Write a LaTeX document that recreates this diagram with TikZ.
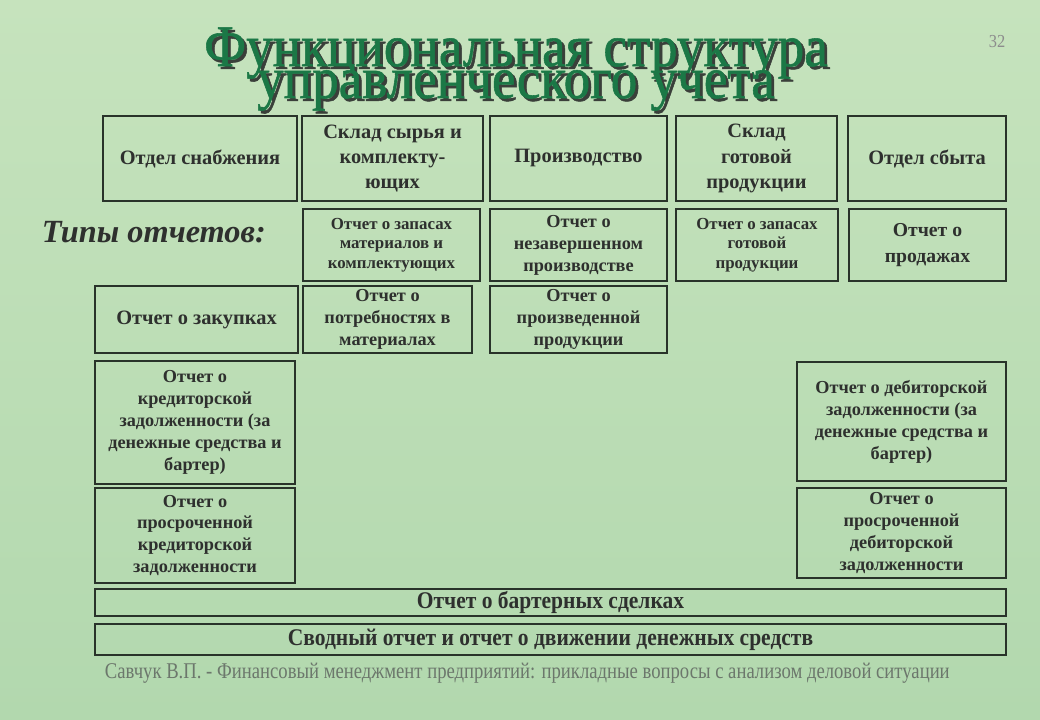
\documentclass[tikz,border=0pt]{standalone}
\usepackage{fontspec}
\setmainfont{Liberation Serif}
\newfontfamily\narrowserif[FakeStretch=0.9]{Liberation Serif}
\newfontfamily\footserif[FakeStretch=0.83]{Liberation Serif}
\newfontfamily\titleserif[FakeStretch=0.9, FakeBold=0.9]{Liberation Serif}
\usepackage{tikz}
\usetikzlibrary{positioning}

\definecolor{bgtop}{HTML}{C6E3BD}
\definecolor{bgbottom}{HTML}{B2D8AE}
\definecolor{boxline}{HTML}{29332A}
\definecolor{boxtext}{HTML}{2E302E}
\definecolor{titlegreen}{HTML}{1B7846}
\definecolor{titleshadow}{HTML}{3A3F3A}
\definecolor{footgray}{HTML}{6C776C}

% title line with its drop shadow
\newcommand{\shadowline}[1]{\makebox[0pt][l]{\hspace{2pt}\raisebox{-2pt}{\color{titleshadow}#1}}#1}
\newcommand{\tightlines}{\lineskiplimit=-60pt\relax}

\tikzset{
  unit/.style 2 args={draw=boxline, line width=2.1pt, align=center, inner sep=0pt,
    text=boxtext, minimum width=#1*0.025cm, minimum height=#2*0.025cm},
  dept/.style={font=\fontsize{14.5}{18}\selectfont\bfseries},
  report/.style={font=\fontsize{13}{15.6}\selectfont\bfseries},
  smallreport/.style={font=\fontsize{12}{14}\selectfont\bfseries},
  bar/.style={font=\fontsize{17}{19}\selectfont\narrowserif\bfseries}
}

\begin{document}
\begin{tikzpicture}[x=0.025cm, y=-0.025cm]

        % Background
        \path[use as bounding box] (0,0) rectangle (1040,720);
        \fill[top color=bgtop, bottom color=bgbottom] (0,0) rectangle (1040,720);

        % Title
        \node at (516,98) [anchor=base, align=center, text=titlegreen, font=\fontsize{42}{22.7}\selectfont\titleserif\tightlines] (title) {\shadowline{Функциональная структура}\\\shadowline{управленческого учета}};
        \node at (997,42) [text=black!45, font=\fontsize{13}{13}\selectfont\narrowserif] (pgno) {32};

        % Departments
        \node at (200,158.5) [unit={194}{85}, dept] (supply) {Отдел снабжения};
        \node at (392.5,158.5) [unit={181}{85}, dept] (rawstore) {Склад сырья и\\комплекту-\\ющих};
        \node at (578.5,158.5) [unit={177}{85}, dept] (prod) {Производство};
        \node at (756.5,158.5) [unit={161}{85}, dept] (finstore) {Склад\\готовой\\продукции};
        \node at (927,158.5) [unit={158}{85}, dept] (sales) {Отдел сбыта};

        \node at (37,243) [anchor=base west, text=boxtext, font=\fontsize{23}{23}\selectfont\bfseries\itshape] (kinds) {Типы отчетов:};

        % Reports, second row
        \node at (391.5,245) [unit={177}{72}, smallreport] (matstock) {Отчет о запасах\\материалов и\\комплектующих};
        \node at (578.5,245) [unit={177}{72}, report] (wip) {Отчет о\\незавершенном\\производстве};
        \node at (757,245) [unit={162}{72}, smallreport] (finstock) {Отчет о запасах\\готовой\\продукции};
        \node at (927.5,245) [unit={157}{72}, font=\fontsize{14}{19}\selectfont\bfseries] (salesrep) {Отчет о\\продажах};

        % Reports, third row
        \node at (196.5,319.5) [unit={203}{67}, font=\fontsize{14.5}{16}\selectfont\bfseries] (purch) {Отчет о закупках};
        \node at (387.5,319.5) [unit={169}{67}, report] (needs) {Отчет о\\потребностях в\\материалах};
        \node at (578.5,319.5) [unit={177}{67}, report] (output) {Отчет о\\произведенной\\продукции};

        % Debts
        \node at (195,422.5) [unit={200}{123}, report] (payable) {Отчет о\\кредиторской\\задолженности (за\\денежные средства и\\бартер)};
        \node at (901.5,421.5) [unit={209}{119}, report] (receiv) {Отчет о дебиторской\\задолженности (за\\денежные средства и\\бартер)};
        \node at (195,535.5) [unit={200}{95}, report] (overpay) {Отчет о\\просроченной\\кредиторской\\задолженности};
        \node at (901.5,533) [unit={209}{90}, report] (overrec) {Отчет о\\просроченной\\дебиторской\\задолженности};

        % Bottom bars
        \node at (550.5,602.5) [unit={911}{27}, bar] (barter) {Отчет о бартерных сделках};
        \node at (550.5,639.5) [unit={911}{31}, bar] (summary) {Сводный отчет и отчет о движении денежных средств};

        % Source
        \node at (100,679) [anchor=base west, text=footgray, font=\fontsize{16}{16}\selectfont\footserif] (source) {Савчук В.П. - Финансовый менеджмент предприятий: прикладные вопросы с анализом деловой ситуации};

\end{tikzpicture}
\end{document}
